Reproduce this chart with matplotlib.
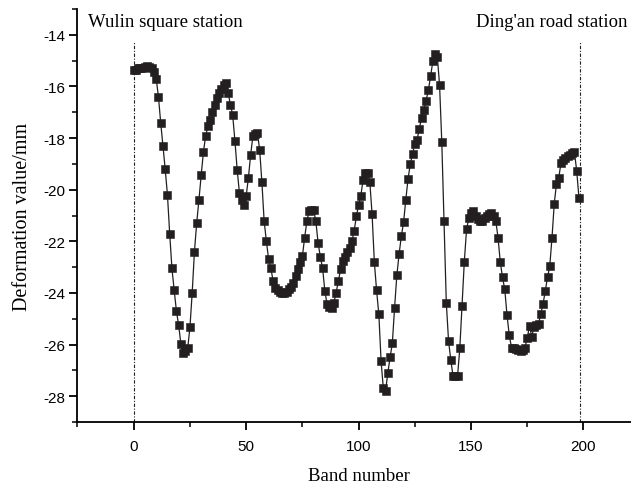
import matplotlib
matplotlib.use("Agg")
import matplotlib.pyplot as plt
import numpy as np
from matplotlib.ticker import MultipleLocator

# deformation along the tunnel, one value per band (mm)
deformation = [
    -15.35, -15.35, -15.30, -15.30, -15.28, -15.25, -15.22, -15.25, -15.30, -15.45,
    -15.70, -16.40, -17.40, -18.30, -19.20, -20.20, -21.70, -23.05, -23.90, -24.70,
    -25.26, -25.99, -26.31, -26.25, -26.15, -25.33, -24.00, -22.40, -21.30, -20.40,
    -19.44, -18.54, -17.90, -17.55, -17.30, -17.00, -16.70, -16.45, -16.25, -16.10,
    -15.95, -15.87, -16.26, -16.70, -17.10, -18.10, -19.22, -20.12, -20.40, -20.58,
    -20.25, -19.54, -18.64, -17.93, -17.85, -17.80, -18.45, -19.71, -21.22, -22.00,
    -22.70, -23.05, -23.54, -23.80, -23.90, -23.98, -24.00, -24.00, -23.95, -23.86,
    -23.75, -23.60, -23.35, -23.09, -22.80, -22.58, -21.86, -21.22, -20.84, -20.80,
    -20.80, -21.22, -22.08, -22.60, -23.05, -23.93, -24.44, -24.55, -24.57, -24.38,
    -23.99, -23.54, -23.09, -22.77, -22.60, -22.40, -22.25, -22.00, -21.61, -21.03,
    -20.60, -20.23, -19.61, -19.35, -19.35, -19.71, -20.96, -22.80, -23.90, -24.83,
    -26.64, -27.70, -27.78, -27.09, -26.50, -25.95, -24.57, -23.32, -22.50, -21.80,
    -21.26, -20.38, -19.57, -19.00, -18.60, -18.22, -18.06, -17.65, -17.22, -16.90,
    -16.55, -16.15, -15.61, -15.03, -14.73, -14.84, -15.93, -18.17, -21.22, -24.38,
    -25.86, -26.60, -27.22, -27.22, -27.22, -26.15, -24.51, -22.80, -21.54, -21.10,
    -20.90, -20.84, -21.00, -21.13, -21.20, -21.22, -21.10, -21.03, -20.95, -20.90,
    -21.03, -21.20, -21.86, -22.80, -23.40, -23.86, -24.87, -25.64, -26.12, -26.15,
    -26.19, -26.22, -26.25, -26.20, -26.12, -25.73, -25.28, -25.70, -25.30, -25.25,
    -25.22, -24.80, -24.44, -23.93, -23.40, -22.96, -21.86, -20.54, -19.76, -19.54,
    -18.96, -18.85, -18.77, -18.70, -18.64, -18.58, -18.55, -19.29, -20.32,
]
band = np.arange(len(deformation))

station_bands = [0, 198.5]
station_names = ["Wulin square station", "Ding'an road station"]
label_x = [-20.3, 152.2]

plt.rcParams["axes.unicode_minus"] = False
serif = "Liberation Serif"
sans = "Liberation Sans"

fig = plt.figure(figsize=(6.31, 4.85), dpi=100)
ax = fig.add_axes([0.1228, 0.1278, 0.891, 0.8515])

ax.plot(band, deformation, color="#231f20", lw=0.9, marker="s", ms=6,
        mfc="#231f20", mec="#231f20", mew=0.4)

ylo, yhi = -29.0, -13.0
for xb in station_bands:
    ax.vlines(xb, ylo, -14.25, colors="#231f20", lw=0.8, linestyles=(0, (3, 1.5, 1, 1.5)))
for xt, name in zip(label_x, station_names):
    ax.text(xt, -13.47, name, family=serif, fontsize=13.5, va="center", ha="left")

ax.set_xlim(-25, 225)
ax.set_ylim(ylo, yhi)
ax.xaxis.set_major_locator(MultipleLocator(50))
ax.xaxis.set_minor_locator(MultipleLocator(25))
ax.yaxis.set_major_locator(MultipleLocator(2))
ax.yaxis.set_minor_locator(MultipleLocator(1))

for side in ["top", "right"]:
    ax.spines[side].set_visible(False)
for side in ["left", "bottom"]:
    ax.spines[side].set_linewidth(1.3)

ax.tick_params(which="major", direction="out", length=6, width=1.3, labelsize=11, pad=3)
ax.tick_params(axis="x", which="major", pad=6)
ax.tick_params(which="minor", direction="out", length=3.5, width=1.1)
for lab in ax.get_xticklabels() + ax.get_yticklabels():
    lab.set_family(sans)

ax.set_xlabel("Band number", family=serif, fontsize=13.5, labelpad=10)
ax.set_ylabel("Deformation value/mm", family=serif, fontsize=14.5)
ax.yaxis.set_label_coords(-0.081, 0.5)

fig.savefig("out.png", dpi=100)
